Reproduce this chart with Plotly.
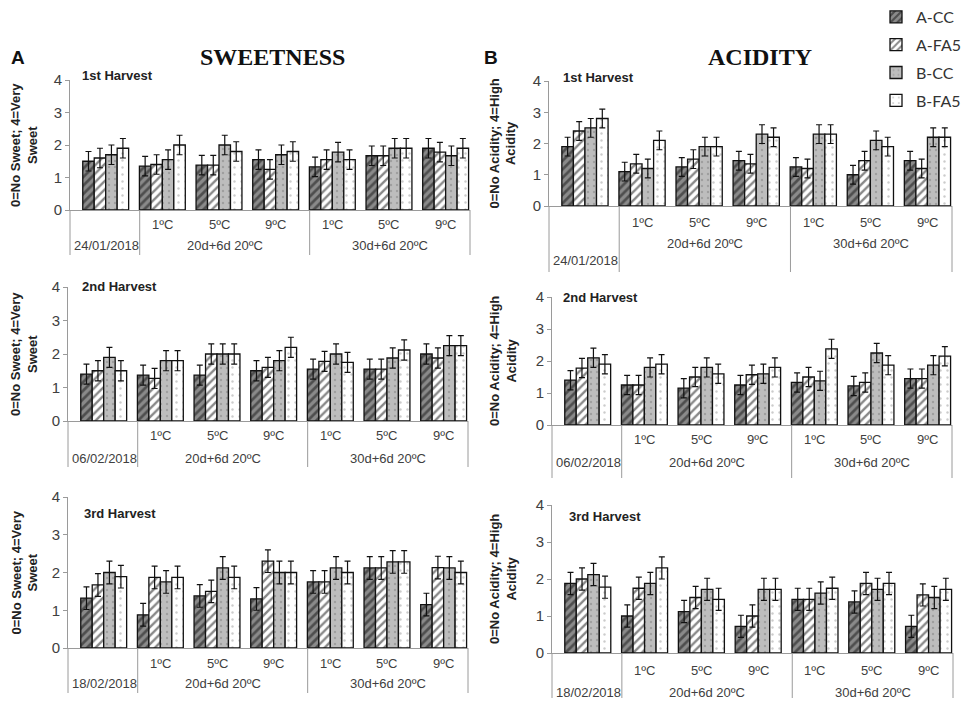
import plotly.graph_objects as go

# ---------------- data ----------------
SERIES = ["A-CC", "A-FA5", "B-CC", "B-FA5"]
INNER_LABELS = ["", "1ºC", "5ºC", "9ºC", "1ºC", "5ºC", "9ºC"]
OUTER_LABELS = ["20d+6d 20ºC", "30d+6d 20ºC"]
DATES = ["24/01/2018", "06/02/2018", "18/02/2018"]
HARVESTS = ["1st Harvest", "2nd Harvest", "3rd Harvest"]

# values per series: A-CC, A-FA5, B-CC, B-FA5 (7 groups each)
SWEET_1 = [[1.50, 1.35, 1.38, 1.55, 1.33, 1.67, 1.90],
           [1.60, 1.40, 1.38, 1.25, 1.55, 1.67, 1.78],
           [1.70, 1.55, 2.00, 1.70, 1.78, 1.90, 1.67],
           [1.90, 2.00, 1.80, 1.80, 1.55, 1.90, 1.90]]
SWEET_2 = [[1.40, 1.37, 1.37, 1.50, 1.55, 1.55, 2.00],
           [1.50, 1.27, 2.00, 1.60, 1.78, 1.55, 1.88],
           [1.90, 1.80, 2.00, 1.80, 2.00, 1.88, 2.25],
           [1.50, 1.80, 2.00, 2.20, 1.75, 2.12, 2.25]]
SWEET_3 = [[1.32, 0.88, 1.38, 1.30, 1.75, 2.12, 1.15],
           [1.67, 1.87, 1.50, 2.30, 1.75, 2.12, 2.13],
           [2.00, 1.75, 2.12, 2.00, 2.12, 2.28, 2.12],
           [1.89, 1.87, 1.87, 2.00, 2.00, 2.28, 2.00]]
ACID_1 = [[1.90, 1.10, 1.25, 1.45, 1.25, 1.00, 1.45],
          [2.40, 1.35, 1.50, 1.35, 1.20, 1.45, 1.20],
          [2.50, 1.20, 1.90, 2.30, 2.30, 2.10, 2.20],
          [2.80, 2.10, 1.90, 2.20, 2.30, 1.90, 2.20]]
ACID_2 = [[1.40, 1.25, 1.15, 1.25, 1.33, 1.22, 1.45],
          [1.78, 1.25, 1.50, 1.57, 1.50, 1.33, 1.45],
          [2.10, 1.80, 1.80, 1.60, 1.38, 2.25, 1.87],
          [1.90, 1.90, 1.60, 1.80, 2.38, 1.87, 2.15]]
ACID_3 = [[1.88, 1.00, 1.12, 0.72, 1.45, 1.38, 0.72],
          [2.00, 1.75, 1.50, 1.00, 1.45, 1.88, 1.57],
          [2.12, 1.88, 1.72, 1.72, 1.62, 1.72, 1.50],
          [1.78, 2.30, 1.45, 1.72, 1.75, 1.88, 1.72]]
SEM = 0.3  # error bar half-length
Y_TICKS = [0, 1, 2, 3, 4]

# ---------------- styling ----------------
W, H = 967, 702
def px(x):
    return x / W
def py(y):
    return 1 - y / H

PATTERNS = [
    dict(shape="/", bgcolor="#8a8a8a", fgcolor="#111111", size=6, solidity=0.45),
    dict(shape="/", bgcolor="#ffffff", fgcolor="#111111", size=6, solidity=0.4),
    dict(shape=".", bgcolor="#bdbdbd", fgcolor="#7f7f7f", size=6, solidity=0.12),
    dict(shape=".", bgcolor="#ffffff", fgcolor="#9a9a9a", size=7, solidity=0.1),
]

PANELS = [
    dict(data=SWEET_1, h=0, kind="S", xd=(70, 470), yd=(80, 210), inner=224, outer=246, date=246, bottom=255, tl=(80, 76), yt=24),
    dict(data=ACID_1, h=0, kind="A", xd=(549, 952), yd=(81, 206), inner=222, outer=243, date=260, bottom=272, tl=(561, 77), yt=503),
    dict(data=SWEET_2, h=1, kind="S", xd=(68, 468), yd=(287, 421), inner=435, outer=458, date=458, bottom=467, tl=(80, 286), yt=24),
    dict(data=ACID_2, h=1, kind="A", xd=(552, 952), yd=(297, 425), inner=440, outer=462, date=462, bottom=478, tl=(561, 297), yt=503),
    dict(data=SWEET_3, h=2, kind="S", xd=(68, 468), yd=(497, 648), inner=663, outer=683, date=683, bottom=693, tl=(82, 513), yt=24),
    dict(data=ACID_3, h=2, kind="A", xd=(552, 953), yd=(505, 653), inner=670, outer=692, date=692, bottom=698, tl=(567, 516), yt=503),
]
YTITLES = {"S": "0=No Sweet; 4=Very<br>Sweet", "A": "0=No Acidity; 4=High<br>Acidity"}

XRANGE = [-0.63, 6.43]
DIV1, DIV2 = 0.6, 3.6
FONT = "Liberation Sans, Arial, sans-serif"
LABEL_COLOR = "#404040"
AXIS_COLOR = "#9a9a9a"

fig = go.Figure()
layout = dict(
    width=W, height=H, margin=dict(l=0, r=0, t=0, b=0, pad=0, autoexpand=False),
    paper_bgcolor="white", plot_bgcolor="white",
    barmode="group", bargap=0.19, bargroupgap=0.0,
    font=dict(family=FONT, size=13, color=LABEL_COLOR),
    showlegend=True,
    legend=dict(x=px(876), y=py(0), xanchor="left", yanchor="top",
                font=dict(family="Lato, Open Sans, sans-serif", size=16, color="#333333"),
                tracegroupgap=4, bgcolor="rgba(0,0,0,0)", itemwidth=30),
)
annotations = []
shapes = []


def ann(x, y, text, xref="paper", yref="paper", xanchor="center", yanchor="middle", **kw):
    annotations.append(dict(x=x, y=y, xref=xref, yref=yref, text=text, showarrow=False,
                            xanchor=xanchor, yanchor=yanchor, **kw))


xpos = list(range(len(INNER_LABELS)))

for i, p in enumerate(PANELS):
    n = i + 1
    xa = "x" if n == 1 else f"x{n}"
    ya = "y" if n == 1 else f"y{n}"
    for s, name in enumerate(SERIES):
        fig.add_trace(go.Bar(
            x=xpos, y=p["data"][s], name=name, xaxis=xa, yaxis=ya,
            legendgroup=name, showlegend=(i == 0),
            marker=dict(color=PATTERNS[s]["bgcolor"], pattern=PATTERNS[s],
                        line=dict(color="#111111", width=1.3)),
            error_y=dict(type="constant", value=SEM, color="#111111", thickness=1.2, width=3),
        ))
    layout["xaxis" if n == 1 else f"xaxis{n}"] = dict(
        domain=[px(p["xd"][0]), px(p["xd"][1])], range=XRANGE, anchor=ya,
        showline=True, linecolor=AXIS_COLOR, linewidth=1, showgrid=False, zeroline=False,
        showticklabels=False, ticks="", fixedrange=True)
    layout["yaxis" if n == 1 else f"yaxis{n}"] = dict(
        domain=[py(p["yd"][1]), py(p["yd"][0])], range=[0, 4], anchor=xa,
        tickvals=Y_TICKS, showline=True, linecolor=AXIS_COLOR, linewidth=1,
        ticks="outside", ticklen=4, tickcolor=AXIS_COLOR, showgrid=False, zeroline=False,
        tickfont=dict(size=15, color=LABEL_COLOR), fixedrange=True)

    # inner temperature labels
    for k, lab in enumerate(INNER_LABELS):
        if lab:
            ann(xpos[k], py(p["inner"]), lab, xref=xa, font=dict(size=13, color=LABEL_COLOR))
    # outer labels
    ann(0.004, py(p["date"]), DATES[p["h"]], xref=f"{xa} domain", xanchor="left",
        font=dict(size=13, color=LABEL_COLOR))
    ann((DIV1 + DIV2) / 2, py(p["outer"]), OUTER_LABELS[0], xref=xa, font=dict(size=13, color=LABEL_COLOR))
    ann((DIV2 + XRANGE[1]) / 2, py(p["outer"]), OUTER_LABELS[1], xref=xa, font=dict(size=13, color=LABEL_COLOR))
    # harvest label
    ann(px(p["tl"][0]), py(p["tl"][1]), f"<b>{HARVESTS[p['h']]}</b>", xanchor="left",
        font=dict(size=13, color="#222222"))
    # y-axis title
    ann(px(p["yt"]), py((p["yd"][0] + p["yd"][1]) / 2), f"<b>{YTITLES[p['kind']]}</b>",
        textangle=-90, font=dict(size=13, color="#222222"))
    # divider lines
    y0 = py(p["yd"][1])
    y1 = py(p["bottom"])
    for xv, xr in [(0, f"{xa} domain"), (DIV1, xa), (DIV2, xa), (1, f"{xa} domain")]:
        shapes.append(dict(type="line", x0=xv, x1=xv, xref=xr, y0=y0, y1=y1, yref="paper",
                           line=dict(color=AXIS_COLOR, width=1)))

# titles
SERIF = "Liberation Serif, Times New Roman, serif"
ann(px(18), py(57), "<b>A</b>", font=dict(size=19, color="#111111", family=FONT))
ann(px(491), py(57), "<b>B</b>", font=dict(size=19, color="#111111", family=FONT))
ann(px(272), py(57), "<b>SWEETNESS</b>", font=dict(size=24, color="#111111", family=SERIF))
ann(px(760), py(57), "<b>ACIDITY</b>", font=dict(size=24, color="#111111", family=SERIF))

layout["annotations"] = annotations
layout["shapes"] = shapes
fig.update_layout(**layout)
fig.write_html("out.html")
